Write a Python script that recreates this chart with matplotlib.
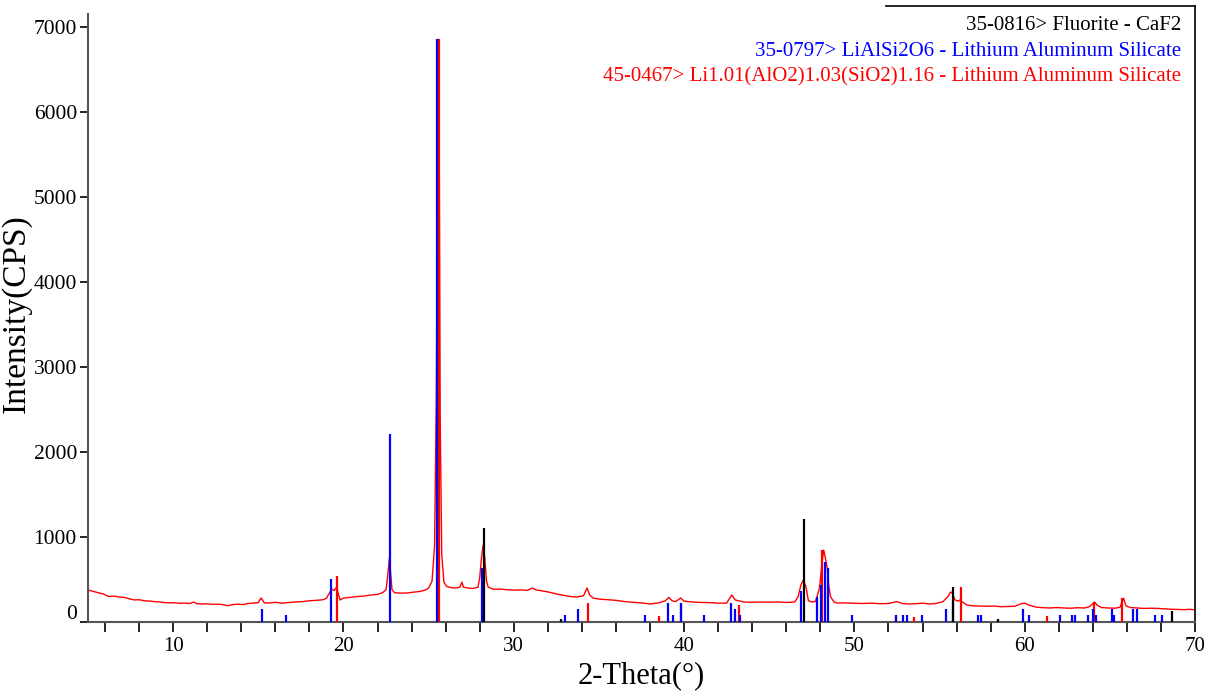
import numpy as np
import matplotlib
matplotlib.use("Agg")
import matplotlib.pyplot as plt
from matplotlib.transforms import ScaledTranslation

plt.rcParams['font.family'] = ['Liberation Serif', 'DejaVu Serif']

meas_x = [5.0, 5.3, 5.6, 5.9, 6.2, 6.5, 6.8, 7.1, 7.4, 7.7, 8.0, 8.3, 8.6, 8.9, 9.2, 9.5, 9.8,
          10.1, 10.4, 10.7, 11.0, 11.2, 11.4, 11.7, 12.0, 12.3, 12.6, 12.9, 13.2, 13.5, 13.8,
          14.1, 14.4, 14.7, 15.0, 15.15, 15.25, 15.35, 15.7, 16.0, 16.4, 16.8, 17.2, 17.6,
          18.0, 18.4, 18.8, 19.0, 19.2, 19.3, 19.45, 19.6, 19.7, 19.8, 20.0, 20.4, 20.8,
          21.2, 21.6, 22.0, 22.3, 22.5, 22.6, 22.7, 22.78, 22.85, 23.0, 23.3, 23.7, 24.1,
          24.5, 24.8, 25.0, 25.2, 25.35, 25.45, 25.52, 25.58, 25.63, 25.68, 25.77, 25.9,
          26.05, 26.3, 26.6, 26.85, 26.95, 27.05, 27.3, 27.6, 27.9, 28.0, 28.1, 28.2, 28.3,
          28.4, 28.5, 28.8, 29.2, 29.6, 30.0, 30.4, 30.8, 31.1, 31.3, 31.7, 32.1, 32.5,
          32.9, 33.3, 33.7, 34.1, 34.3, 34.45, 34.65, 35.0, 35.5, 36.0, 36.5, 37.0, 37.5,
          38.0, 38.5, 38.9, 39.1, 39.3, 39.5, 39.8, 40.0, 40.5, 41.0, 41.5, 42.0, 42.5,
          42.8, 43.0, 43.5, 44.0, 44.5, 45.0, 45.5, 46.0, 46.5, 46.7, 46.85, 47.0, 47.15,
          47.3, 47.5, 47.7, 47.8, 47.95, 48.1, 48.2, 48.3, 48.4, 48.5, 48.6, 48.8, 49.0,
          49.5, 50.0, 50.5, 51.0, 51.5, 52.0, 52.5, 52.8, 53.2, 53.6, 54.0, 54.4, 54.8,
          55.2, 55.5, 55.65, 55.75, 55.9, 56.1, 56.2, 56.35, 56.6, 57.0, 57.4, 57.8, 58.2,
          58.6, 59.0, 59.4, 59.8, 60.0, 60.3, 60.7, 61.1, 61.5, 61.9, 62.3, 62.7, 63.1,
          63.5, 63.8, 64.0, 64.1, 64.25, 64.5, 64.9, 65.3, 65.6, 65.8, 65.95, 66.2, 66.6,
          67.0, 67.4, 67.8, 68.2, 68.6, 69.0, 69.4, 69.7, 70.0]
meas_y = [376, 360, 345, 330, 300, 305, 295, 290, 275, 260, 262, 250, 247, 240, 236, 228, 225,
          226, 220, 222, 218, 235, 215, 212, 214, 208, 210, 205, 192, 205, 210,
          205, 218, 222, 228, 282, 260, 225, 225, 232, 222, 230, 236, 240,
          250, 255, 262, 280, 350, 388, 370, 411, 330, 259, 282, 290, 300,
          305, 318, 325, 345, 380, 550, 752, 560, 380, 345, 340, 341, 350,
          360, 375, 400, 480, 900, 2600, 5200, 6860, 5200, 2400, 800, 470,
          420, 405, 400, 412, 470, 410, 400, 395, 410, 520, 750, 905, 750,
          480, 411, 385, 388, 380, 375, 378, 372, 400, 378, 365, 350, 330,
          315, 300, 294, 310, 400, 320, 282, 270, 262, 255, 240, 232, 225,
          212, 225, 250, 290, 250, 240, 282, 245, 235, 230, 228, 222, 223,
          318, 260, 235, 232, 235, 233, 236, 230, 235, 300, 430, 494, 420,
          250, 235, 240, 294, 400, 700, 847, 750, 647, 420, 298, 235, 223,
          225, 220, 218, 222, 215, 218, 240, 218, 212, 215, 222, 212, 218,
          240, 300, 353, 340, 260, 245, 259, 235, 200, 190, 188, 185, 188,
          180, 182, 185, 215, 222, 195, 175, 168, 165, 170, 165, 162, 168,
          165, 180, 215, 235, 200, 170, 165, 162, 175, 282, 190, 170, 165,
          160, 162, 160, 155, 150, 148, 145, 150, 142]

# 35-0816> Fluorite - CaF2
caf2_x = [28.25, 32.77, 47.02, 55.78, 58.45, 68.66]
caf2_h = [1110, 35, 1211, 412, 35, 130]

# 35-0797> LiAlSi2O6
lias_x = [15.2, 16.6, 19.25, 22.73, 25.52, 28.14, 33.0, 33.8, 37.7, 39.05, 39.35, 39.8,
          41.17, 42.76, 43.0, 43.28, 46.84, 47.79, 48.02, 48.28, 48.43, 49.86, 52.45,
          52.86, 53.1, 53.97, 55.4, 55.8, 57.26, 57.44, 59.9, 60.26, 62.07, 62.78, 62.96,
          63.72, 64.0, 64.2, 65.13, 65.25, 66.36, 66.6, 67.65, 68.07]
lias_h = [153, 82, 506, 2211, 6860, 635, 82, 153, 82, 223, 82, 223,
          82, 223, 153, 82, 370, 294, 435, 706, 635, 82, 82,
          82, 82, 82, 153, 223, 82, 82, 153, 82, 82, 82, 82,
          82, 153, 82, 153, 82, 153, 153, 82, 82]

# 45-0467> Li1.01(AlO2)1.03(SiO2)1.16
li101_x = [19.62, 25.63, 34.36, 38.5, 39.82, 43.23, 48.12, 52.45, 53.5, 56.24, 61.3, 64.08, 65.72]
li101_h = [541, 6860, 223, 70, 223, 200, 847, 82, 59, 412, 70, 235, 282]

legend_labels = ['35-0816> Fluorite - CaF2',
                 '35-0797> LiAlSi2O6 - Lithium Aluminum Silicate',
                 '45-0467> Li1.01(AlO2)1.03(SiO2)1.16 - Lithium Aluminum Silicate']
legend_colors = ['black', '#0000ff', '#ff0000']

fig = plt.figure(figsize=(12.11, 6.93), dpi=100)
ax = fig.add_axes([88 / 1211, 71 / 693, 1107 / 1211, 616 / 693])

ax.plot(meas_x, meas_y, color='#ff0000', lw=1.0, zorder=2)
ax.vlines(li101_x, 0, li101_h, color='#ff0000', lw=1.6, zorder=3)
ax.vlines(lias_x, 0, lias_h, color='#0000ff', lw=1.6, zorder=3)
ax.vlines(caf2_x, 0, caf2_h, color='black', lw=1.6, zorder=4)

ax.set_xlim(5, 70)
ax.set_ylim(0, 7250)

ax.set_xticks([10, 20, 30, 40, 50, 60, 70])
ax.set_xticks(np.arange(6, 70, 2), minor=True)
ax.set_yticks(range(0, 8000, 1000))
ax.tick_params(axis='x', which='both', direction='out', length=7.5, width=1.2,
               labelsize=15, pad=3)
ax.tick_params(axis='y', direction='out', length=6, width=1.2, labelsize=15.5, pad=2)

# the "0" label sits a bit higher than its tick
t0 = ax.yaxis.get_major_ticks()[0]
t0.label1.set_transform(t0.label1.get_transform() +
                        ScaledTranslation(0, 10 / 100, fig.dpi_scale_trans))

ax.set_xlabel('2-Theta(°)', fontsize=22, labelpad=4)
ax.set_ylabel('Intensity(CPS)', fontsize=24, labelpad=1)

for s in ['left', 'bottom']:
    ax.spines[s].set_color('#555555')
    ax.spines[s].set_linewidth(1.5)
ax.spines['right'].set_color('black')
ax.spines['right'].set_linewidth(1.2)
ax.spines['top'].set_color('black')
ax.spines['top'].set_linewidth(1.2)
ax.spines['top'].set_bounds(51.86, 70)
ax.spines['left'].set_bounds(0, 7160)

ypos = [0.969, 0.926, 0.885]
for lab, col, yy in zip(legend_labels, legend_colors, ypos):
    ax.text(0.9874, yy, lab, color=col, fontsize=15, ha='right', va='center',
            transform=ax.transAxes)

fig.savefig('out.png', dpi=100)
